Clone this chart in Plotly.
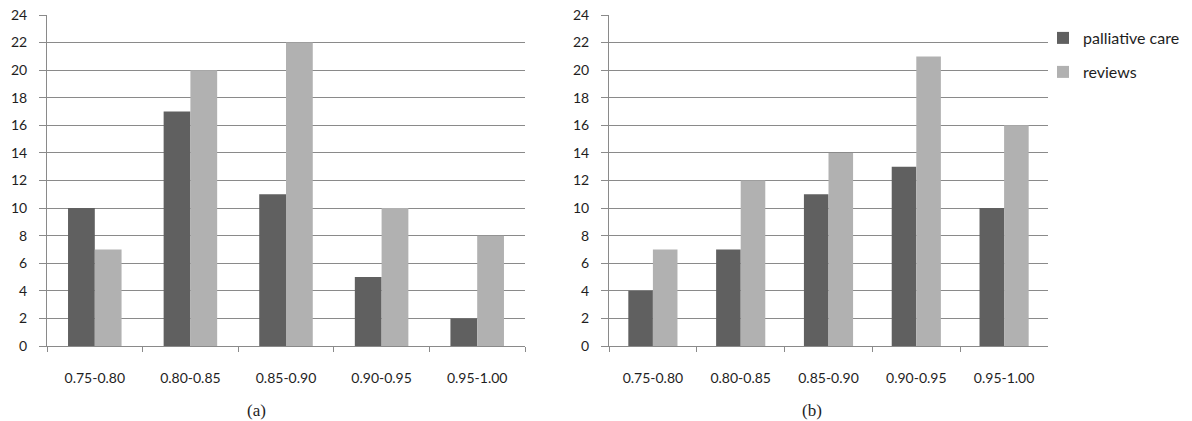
import plotly.graph_objects as go

W, H = 1192, 421

# Similarity score bins on the x axis
categories = ["0.75-0.80", "0.80-0.85", "0.85-0.90", "0.90-0.95", "0.95-1.00"]
y_ticks = list(range(0, 25, 2))

# Panel (a)
palliative_a = [10, 17, 11, 5, 2]
reviews_a = [7, 20, 22, 10, 8]

# Panel (b)
palliative_b = [4, 7, 11, 13, 10]
reviews_b = [7, 12, 14, 21, 16]

series_names = ["palliative care", "reviews"]
captions = ["(a)", "(b)"]

DARK = "#606060"
LIGHT = "#b1b1b1"
GRID = "#8a8a8a"
TXT = "#1e1e1e"
FONT = "Lato"


def px(x):
    return x / W


def py(y):
    return 1 - y / H


fig = go.Figure()

panels = [
    ("x", "y", palliative_a, reviews_a, True),
    ("x2", "y2", palliative_b, reviews_b, False),
]
for xa, ya, pal, rev, show in panels:
    fig.add_trace(go.Bar(x=categories, y=pal, name=series_names[0], marker_color=DARK,
                         marker_line_width=0, xaxis=xa, yaxis=ya, showlegend=show,
                         legend="legend"))
    fig.add_trace(go.Bar(x=categories, y=rev, name=series_names[1], marker_color=LIGHT,
                         marker_line_width=0, xaxis=xa, yaxis=ya, showlegend=show,
                         legend="legend2"))

xaxis_common = dict(
    type="category", tickson="boundaries", ticks="outside", ticklen=5, tickcolor=GRID,
    showline=True, linecolor=GRID, linewidth=1, showgrid=False, zeroline=False,
    tickfont=dict(family=FONT, size=14, color=TXT), ticklabelstandoff=19,
    fixedrange=True, automargin=False,
)
yaxis_common = dict(
    range=[0, 24], tickvals=y_ticks, ticks="outside", ticklen=7, tickcolor=GRID,
    showline=True, linecolor=GRID, linewidth=1, showgrid=True, gridcolor=GRID,
    gridwidth=1, zeroline=False, tickfont=dict(family=FONT, size=14, color=TXT),
    ticklabelstandoff=9, fixedrange=True, automargin=False,
)

y_dom = [py(346), py(15)]

legend_style = dict(xanchor="left", yanchor="middle", itemwidth=30,
                    font=dict(family=FONT, size=16, color=TXT),
                    bgcolor="rgba(0,0,0,0)")

fig.update_layout(
    template="none",
    width=W, height=H,
    margin=dict(l=0, r=0, t=0, b=0, pad=0, autoexpand=False),
    paper_bgcolor="white", plot_bgcolor="white",
    barmode="group", bargap=0.44, bargroupgap=0.0,
    xaxis=dict(domain=[px(47), px(525)], anchor="y", **xaxis_common),
    yaxis=dict(domain=y_dom, anchor="x", **yaxis_common),
    xaxis2=dict(domain=[px(609), px(1048)], anchor="y2", **xaxis_common),
    yaxis2=dict(domain=y_dom, anchor="x2", **yaxis_common),
    legend=dict(x=px(1043), y=py(38), **legend_style),
    legend2=dict(x=px(1043), y=py(72), **legend_style),
    font=dict(family=FONT, color=TXT),
)

for cap, cx in zip(captions, [256, 812]):
    fig.add_annotation(text=cap, x=px(cx), y=py(410), xref="paper", yref="paper",
                       showarrow=False, xanchor="center", yanchor="middle",
                       font=dict(family="Liberation Serif", size=17, color=TXT))

fig.write_html("out.html")
